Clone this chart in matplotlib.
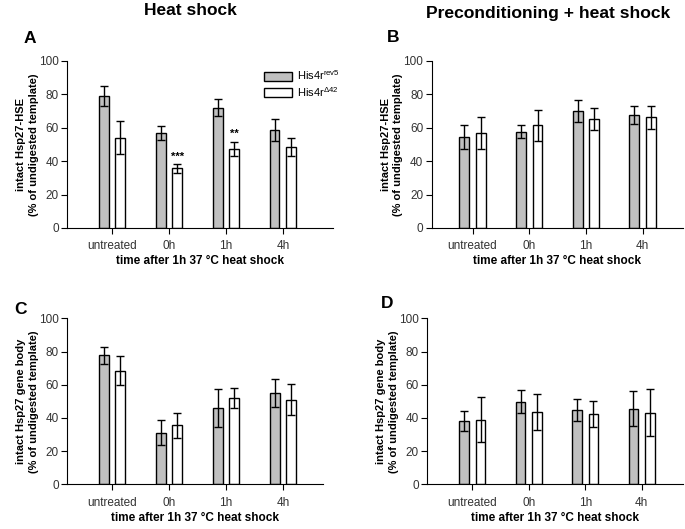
import numpy as np
import matplotlib.pyplot as plt

plt.rcParams['font.family'] = ['Liberation Sans', 'DejaVu Sans']
plt.rcParams['mathtext.fontset'] = 'custom'
plt.rcParams['mathtext.rm'] = 'Liberation Sans'

categories = ['untreated', '0h', '1h', '4h']

# panel A: Hsp27-HSE, heat shock
a_rev5 = [79, 57, 72, 58.5]
a_rev5_err = [6, 4.3, 5, 6.5]
a_d42 = [54, 35.7, 47.3, 48.3]
a_d42_err = [9.8, 2.5, 4.4, 5.4]
a_stars = ['', '***', '**', '']

# panel B: Hsp27-HSE, preconditioning + heat shock
b_rev5 = [54.6, 57.6, 70, 67.4]
b_rev5_err = [7.3, 3.9, 6.5, 5.3]
b_d42 = [56.8, 61.4, 65.2, 66.2]
b_d42_err = [9.4, 9.1, 6.5, 6.9]

# panel C: Hsp27 gene body, heat shock
c_rev5 = [77.7, 31.1, 45.8, 55.2]
c_rev5_err = [4.9, 7.5, 11.4, 8.4]
c_d42 = [68.5, 35.5, 52, 51]
c_d42_err = [8.6, 7.5, 5.9, 9.4]

# panel D: Hsp27 gene body, preconditioning + heat shock
d_rev5 = [38.3, 49.9, 44.9, 45.7]
d_rev5_err = [6.2, 6.8, 6.6, 10.7]
d_d42 = [39, 43.5, 42.5, 43.1]
d_d42_err = [13.7, 10.9, 7.7, 14.1]

fig = plt.figure(figsize=(6.85, 5.29), dpi=100)

axA = fig.add_axes([0.0978, 0.569, 0.388, 0.316])
axB = fig.add_axes([0.630, 0.569, 0.367, 0.316])
axC = fig.add_axes([0.0978, 0.0845, 0.3737, 0.3135])
axD = fig.add_axes([0.6238, 0.0845, 0.3732, 0.3135])

x = np.arange(len(categories))
w = 0.175
off = 0.146


def draw(ax, g, ge, wh, we, ylabel, xlim):
    ax.bar(x - off, g, w, color='#c0c0c0', edgecolor='black', linewidth=1, zorder=2,
           label='His4r$^{\\mathrm{rev5}}$')
    ax.bar(x + off, wh, w, color='white', edgecolor='black', linewidth=1, zorder=2,
           label='His4r$^{\\Delta\\mathrm{42}}$')
    ax.errorbar(x - off, g, yerr=ge, fmt='none', ecolor='black', elinewidth=1, capsize=3, capthick=1, zorder=3)
    ax.errorbar(x + off, wh, yerr=we, fmt='none', ecolor='black', elinewidth=1, capsize=3, capthick=1, zorder=3)
    ax.set_ylim(0, 100)
    ax.set_xlim(*xlim)
    ax.set_yticks([0, 20, 40, 60, 80, 100])
    ax.set_xticks(x)
    ax.set_xticklabels(categories)
    ax.tick_params(labelsize=8.5, labelcolor='#333333', length=4, width=0.8)
    ax.tick_params(axis='x', pad=5)
    ax.tick_params(axis='y', pad=2)
    for s in ['top', 'right']:
        ax.spines[s].set_visible(False)
    ax.set_ylabel(ylabel, fontsize=8, fontweight='bold', labelpad=0, linespacing=1.35)
    ax.set_xlabel('time after 1h 37 °C heat shock', fontsize=8.5, fontweight='bold', labelpad=2)


draw(axA, a_rev5, a_rev5_err, a_d42, a_d42_err,
     'intact Hsp27-HSE\n(% of undigested template)', (-0.79, 3.877))
draw(axB, b_rev5, b_rev5_err, b_d42, b_d42_err,
     'intact Hsp27-HSE\n(% of undigested template)', (-0.723, 3.711))
draw(axC, c_rev5, c_rev5_err, c_d42, c_d42_err,
     'intact Hsp27 gene body\n(% of undigested template)', (-0.79, 3.70))
draw(axD, d_rev5, d_rev5_err, d_d42, d_d42_err,
     'intact Hsp27 gene body\n(% of undigested template)', (-0.797, 3.73))

for i, s in enumerate(a_stars):
    if s:
        axA.text(x[i] + off, a_d42[i] + a_d42_err[i] + 1.5, s, ha='center', va='bottom',
                 fontsize=8, fontweight='bold')

axA.legend(loc='upper left', bbox_to_anchor=(0.3854, 0.871), bbox_transform=fig.transFigure,
           frameon=False, fontsize=8, borderpad=0, borderaxespad=0,
           handlelength=2.5, handleheight=0.9, handletextpad=0.5, labelspacing=0.25)

fig.text(0.278, 0.981, 'Heat shock', ha='center', va='center', fontsize=12.5, fontweight='bold')
fig.text(0.80, 0.9745, 'Preconditioning + heat shock', ha='center', va='center', fontsize=12.6, fontweight='bold')
fig.text(0.044, 0.928, 'A', ha='center', va='center', fontsize=12.5, fontweight='bold')
fig.text(0.574, 0.930, 'B', ha='center', va='center', fontsize=12.5, fontweight='bold')
fig.text(0.030, 0.414, 'C', ha='center', va='center', fontsize=12.5, fontweight='bold')
fig.text(0.565, 0.427, 'D', ha='center', va='center', fontsize=12.5, fontweight='bold')

fig.savefig('out.png', dpi=100)
